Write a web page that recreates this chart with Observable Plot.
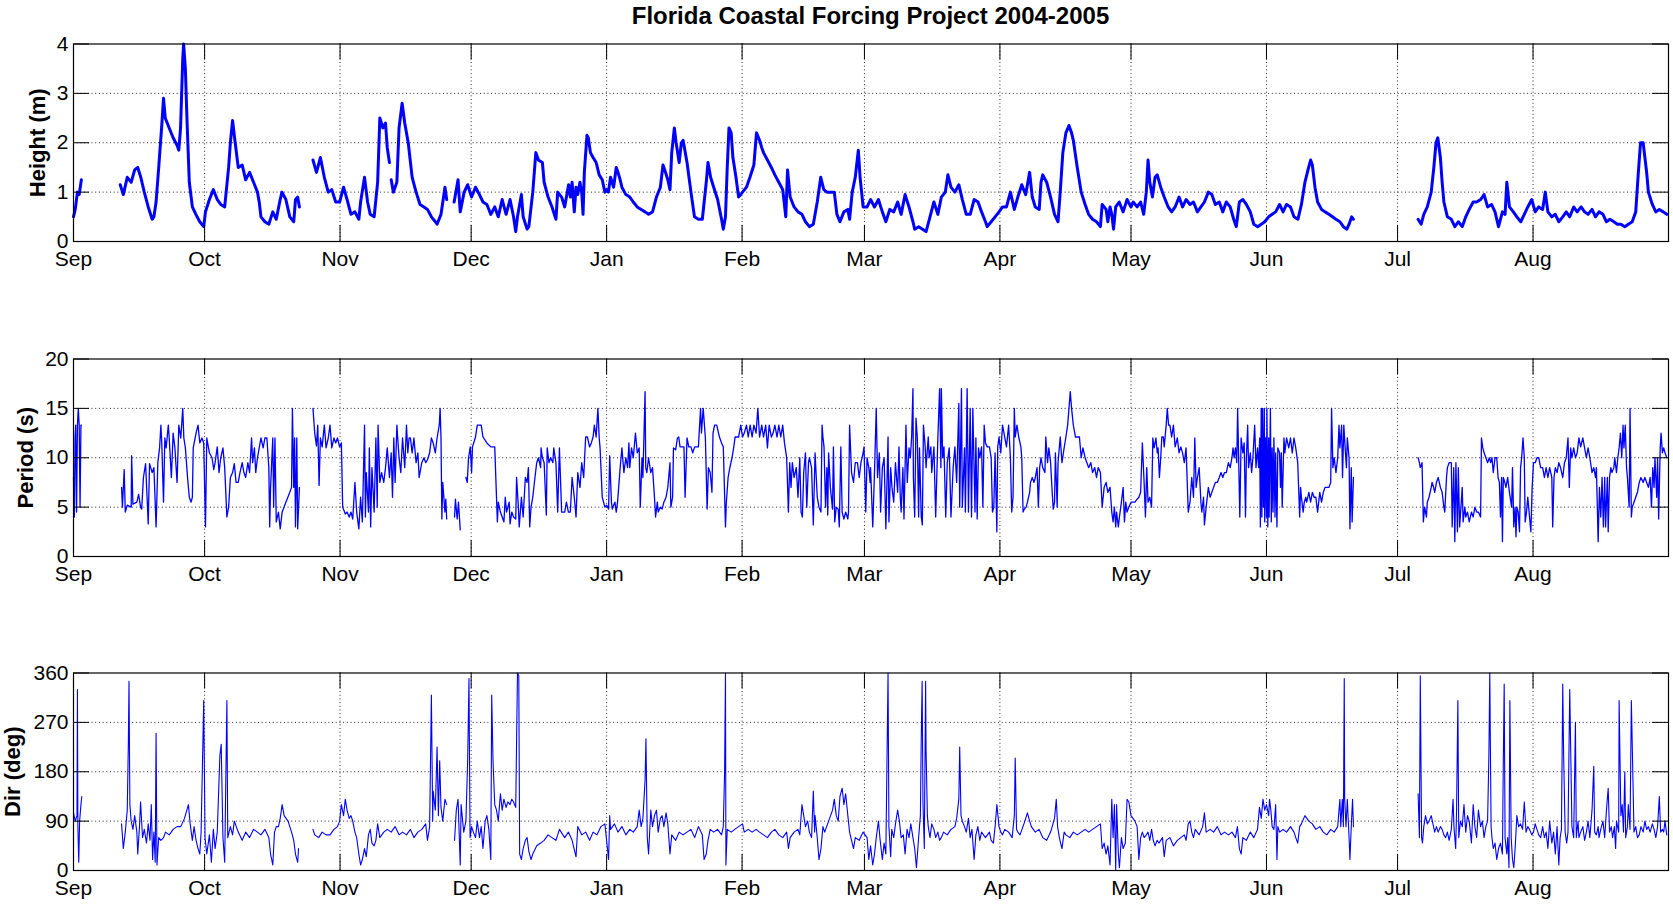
<!DOCTYPE html>
<html>
<head>
<meta charset="utf-8">
<script src="https://cdn.jsdelivr.net/npm/d3@7"></script>
<script src="https://cdn.jsdelivr.net/npm/@observablehq/plot@0.6"></script>
<style>
  html, body { margin: 0; padding: 0; background: white; overflow: hidden; }
  #title { height: 30px; position: relative; }
  #title span { position: absolute; left: 73px; width: 1595px; top: 2px; text-align: center;
    font: bold 24px "Liberation Sans", Arial, sans-serif; color: black; }
  svg { display: block; }
</style>
</head>
<body>
<div id="title"><span>Florida Coastal Forcing Project 2004-2005</span></div>
<div id="charts"></div>
<script>
// ---- axis / tick data ----
const startDate = "2004-09-01";
const endDate = "2005-09-01";
const monthTicks = ["2004-09-01","2004-10-01","2004-11-01","2004-12-01","2005-01-01","2005-02-01",
  "2005-03-01","2005-04-01","2005-05-01","2005-06-01","2005-07-01","2005-08-01"];
const heightTicks = [0, 1, 2, 3, 4];
const periodTicks = [0, 5, 10, 15, 20];
const dirTicks = [0, 90, 180, 270, 360];
const panelLabels = ["Height (m)", "Period (s)", "Dir (deg)"];

// ---- series: [days since 2004-09-01, value]; null marks a data gap ----
const heightData = [
[0,0.5],[0.4,0.65],[0.9,1.0],[1.3,0.95],[1.8,1.25],[2,null],
[10.7,1.15],[11.4,0.95],[12.3,1.3],[13.2,1.2],[14.0,1.45],[14.7,1.5],[15.4,1.3],[16.2,1.0],[17.1,0.7],[18.0,0.45],[18.4,0.5],[18.9,0.8],[19.5,1.5],[20.2,2.35],[20.6,2.9],[21.0,2.5],[21.9,2.3],[22.8,2.1],[23.7,1.95],[24.1,1.85],[24.5,2.3],[25.0,3.7],[25.2,4.0],[25.6,3.5],[26.0,2.4],[26.5,1.2],[27.2,0.7],[28.0,0.55],[28.9,0.4],[29.8,0.3],[30.2,0.6],[31.1,0.85],[32.0,1.05],[32.9,0.85],[33.7,0.75],[34.6,0.7],[35.5,1.5],[35.9,2.0],[36.4,2.45],[37.0,2.0],[37.7,1.5],[38.6,1.55],[39.4,1.25],[40.3,1.4],[41.2,1.2],[42.1,1.0],[42.5,0.8],[42.9,0.5],[43.8,0.4],[44.7,0.35],[45.6,0.6],[46.4,0.45],[47.3,0.85],[47.7,1.0],[48.6,0.85],[49.5,0.5],[50.4,0.4],[50.8,0.85],[51.3,0.9],[51.7,0.7],[52,null],
[54.8,1.65],[55.6,1.4],[56.5,1.7],[57.4,1.3],[58.3,1.0],[59.1,1.05],[60.0,0.8],[60.9,0.8],[61.8,1.1],[62.6,0.85],[63.5,0.55],[64.4,0.6],[65.3,0.45],[65.7,0.8],[66.6,1.3],[67.3,0.8],[67.9,0.55],[68.8,0.5],[69.6,1.2],[70.1,2.5],[70.8,2.3],[71.4,2.4],[71.8,1.9],[72.3,1.6],[72.5,null],
[72.7,1.25],[73.2,1.0],[74.0,1.2],[74.5,2.3],[75.2,2.8],[75.8,2.4],[76.6,2.0],[77.5,1.3],[78.4,1.0],[79.3,0.75],[80.2,0.7],[81.0,0.65],[81.9,0.5],[82.8,0.4],[83.2,0.35],[84.1,0.55],[85.0,1.1],[85.4,0.85],[86,null],
[87.1,0.8],[88.0,1.25],[88.5,0.6],[89.4,1.0],[90.2,1.15],[91.1,0.9],[92.0,1.1],[92.9,0.95],[93.7,0.8],[94.6,0.75],[95.5,0.55],[96.4,0.7],[97.2,0.5],[98.1,0.85],[99.0,0.55],[99.9,0.85],[100.7,0.5],[101.2,0.2],[101.6,0.5],[102.5,0.95],[102.9,0.5],[103.8,0.25],[104.2,0.3],[105.1,1.0],[105.8,1.8],[106.4,1.65],[107.3,1.6],[107.7,1.2],[108.6,0.9],[109.5,0.7],[110.4,0.45],[110.8,1.0],[111.7,0.9],
[112.4,0.7],[113.3,1.15],[113.7,0.9],[114.1,1.2],[114.6,0.6],[115.0,1.1],[115.4,0.95],[115.9,1.2],[116.3,1.0],[116.6,0.55],[116.9,1.4],[117.5,2.15],[117.8,2.1],[118.3,1.8],[118.9,1.7],[119.6,1.6],[120.3,1.35],[121.0,1.25],[121.6,1.0],[122.0,1.05],[122.4,1.0],[122.9,1.3],[123.6,1.1],[124.2,1.5],[124.6,1.4],[125.1,1.25],[125.5,1.1],[126.4,0.95],[127.3,0.9],[128.1,0.8],[129.0,0.7],[129.9,0.65],[130.8,0.6],[131.6,0.55],[132.5,0.6],[133.4,0.9],[134.3,1.1],[134.9,1.55],[135.3,1.45],[136.0,1.25],[136.5,1.05],[136.9,1.8],[137.5,2.3],[137.9,2.0],[138.6,1.6],[139.1,2.0],[139.5,2.05],[140.0,1.8],[140.4,1.6],[141.3,1.0],[142.1,0.5],[143.0,0.45],[143.9,0.45],[144.8,1.2],[145.2,1.6],[145.8,1.3],[146.5,1.1],[147.4,0.85],[148.3,0.45],[148.7,0.25],[149.2,0.5],[149.6,1.5],[150.0,2.3],[150.5,2.2],[150.9,1.7],[151.6,1.3],[152.2,0.9],[153.1,1.0],[154.0,1.1],[154.8,1.3],[155.7,1.55],[156.3,2.2],[157.0,2.05],[157.5,1.9],[157.9,1.8],[158.8,1.65],[159.7,1.5],[160.5,1.35],[161.4,1.2],[162.3,1.05],[163.0,0.5],[163.4,1.45],[164.0,0.9],[164.9,0.7],[165.8,0.6],[166.7,0.55],[167.5,0.4],[168.4,0.3],[169.3,0.35],[170.2,0.8],[171.0,1.3],[171.7,1.05],[172.4,1.0],[173.2,1.0],[174.1,1.0],[174.7,0.55],[175.4,0.4],[176.3,0.6],[177.2,0.65],[177.6,0.45],[178.2,1.0],[178.9,1.3],[179.6,1.85],[180.0,1.3],[180.7,0.7],[181.6,0.7],[182.4,0.85],[183.3,0.7],[184.2,0.85],[185.1,0.6],[185.9,0.4],[186.8,0.65],[187.7,0.6],[188.6,0.8],[189.4,0.55],[190.3,0.95],[191.2,0.7],[192.1,0.4],[192.5,0.25],[193.4,0.3],[194.3,0.25],[195.1,0.2],[196.0,0.5],[196.9,0.8],[197.8,0.55],[198.6,0.9],[199.5,1.0],[200.1,1.35],[200.8,1.1],[201.7,1.0],[202.6,1.15],[203.4,0.85],[204.3,0.55],[205.2,0.55],[206.1,0.85],[207.0,0.8],[207.8,0.6],[208.7,0.4],[209.1,0.3],[210.0,0.4],[210.9,0.5],[211.8,0.6],[212.6,0.7],[213.5,0.7],[214.4,1.0],[215.3,0.65],[216.1,0.9],[217.0,1.15],[217.9,0.95],[218.8,1.4],[219.4,0.9],[220.1,0.7],[221.0,0.65],[221.4,1.2],[221.8,1.35],[222.7,1.2],[223.6,0.9],[224.5,0.55],[225.3,0.4],[225.8,1.0],[226.4,1.8],[227.1,2.2],[227.8,2.35],[228.4,2.2],[228.8,2.05],[229.7,1.5],[230.6,1.0],[231.5,0.75],[232.3,0.55],[233.2,0.45],[234.1,0.4],[235.0,0.3],[235.4,0.75],[236.3,0.65],[236.7,0.4],[237.2,0.7],[237.6,0.55],[238.0,0.25],[238.5,0.7],[239.3,0.8],[240.2,0.6],[241.1,0.85],[242.0,0.7],
[242.5,0.8],[243.4,0.7],[244.2,0.8],[244.9,0.55],[245.5,1.0],[245.9,1.65],[246.3,1.2],[246.9,0.9],[247.5,1.3],[248.0,1.35],[248.8,1.1],[249.6,0.9],[250.5,0.7],[251.3,0.6],[252.1,0.7],[253.0,0.9],[253.8,0.7],[254.6,0.85],[255.5,0.75],[256.3,0.8],[257.2,0.6],[258.0,0.7],[258.8,0.8],[259.7,1.0],[260.5,0.95],[261.3,0.75],[262.2,0.8],[263.0,0.6],[263.8,0.8],[264.7,0.7],[265.5,0.45],[266.1,0.3],[266.8,0.8],[267.6,0.85],[268.4,0.75],[269.3,0.6],[270.1,0.35],[271.0,0.3],[271.8,0.35],[272.6,0.4],[273.5,0.5],[274.3,0.55],[275.1,0.6],[276.0,0.75],[276.8,0.6],[277.6,0.75],[278.5,0.7],[279.3,0.5],[280.2,0.45],[281.0,0.75],[281.8,1.2],[282.5,1.45],[283.1,1.65],[283.5,1.55],[284.1,1.1],[284.7,0.8],[285.6,0.65],[286.4,0.6],[287.3,0.55],[288.1,0.5],[288.9,0.45],[289.8,0.4],[290.6,0.3],[291.4,0.25],[291.9,0.35],[292.5,0.5],[292.9,0.45],[293,null],
[307.7,0.45],[308.4,0.35],[309.0,0.55],[309.8,0.7],[310.7,1.0],[311.3,1.5],[311.8,2.0],[312.2,2.1],[312.8,1.7],[313.2,1.2],[313.6,0.8],[314.4,0.5],[315.3,0.45],[316.1,0.3],[316.9,0.4],[317.8,0.3],[318.6,0.5],[319.4,0.65],[320.3,0.8],[321.1,0.8],[322.0,0.85],[322.8,0.95],[323.6,0.7],[324.5,0.75],[325.3,0.6],[326.1,0.3],[327.0,0.6],[327.6,0.55],[328.0,1.2],[328.6,0.7],[329.5,0.6],[330.3,0.5],[331.2,0.4],[332.0,0.55],[332.8,0.7],[333.7,0.85],[334.5,0.6],[335.3,0.7],[336.2,0.65],[336.8,1.0],[337.4,0.6],[338.3,0.5],[339.1,0.55],[339.9,0.4],[340.8,0.5],[341.6,0.6],[342.4,0.5],[343.3,0.7],[344.1,0.6],[345.0,0.7],[345.8,0.6],[346.6,0.55],[347.5,0.65],[348.3,0.5],[349.1,0.6],[350.0,0.55],[350.8,0.4],[351.6,0.45],[352.5,0.4],[353.3,0.35],[354.1,0.35],[355.0,0.3],[355.8,0.35],[356.7,0.4],[357.5,0.6],[358.1,1.4],[358.6,2.0],[359.2,2.0],[359.6,1.7],[360.0,1.4],[360.4,1.0],[361.3,0.75],[362.1,0.6],[362.9,0.65],[363.8,0.6],[364.6,0.55]
];

const periodData = [
[0,8],[0.2,4],[0.35,12],[0.5,13.3],[0.7,4.5],[0.9,13.3],[1.1,15],[1.3,13.3],[1.5,5],[1.7,13.3],[1.8,13.3],[2,null],
[11.0,7],[11.2,5],[11.6,8.8],[11.85,4.5],[12.3,5.2],[13.2,5.0],[13.3,10.2],[13.6,5.3],[14.5,5.5],[14.9,6.3],[15.35,5.0],[15.6,4.8],[16.0,8],[16.5,9.4],[17.1,3.3],[17.4,9.4],[18.0,8.5],[18.4,9.0],[18.9,3.0],[19.3,9.5],[19.7,11],[20.0,13.3],[20.2,11.5],[20.6,5.5],[20.9,12],[21.2,11],[21.7,13.3],[21.9,12],[22.4,8],[22.8,12.5],[23.2,11],[23.7,7.5],[24.1,13.3],[24.55,12],[25.0,15],[25.25,12],[25.6,11],[26.1,8],[26.5,6],[26.9,5.5],[27.2,6],[27.4,11],[28.05,12.5],[28.5,13.3],[28.9,11.5],[29.4,12],[29.8,11.5],[30.2,3],[30.5,12],[31.1,10.5],[31.7,10],[32.1,8.8],[32.4,9.5],[32.9,11.1],[33.3,8.5],[33.7,10],[34.2,11],[34.6,9],[35.1,4],[35.5,5.0],[35.9,8.0],[36.4,8.5],[36.8,9.4],[37.2,7.5],[37.7,7.5],[38.1,8.5],[38.6,9.5],[39.0,8.5],[39.4,8.0],[39.9,9.5],[40.3,8.5],[40.75,12],[41.0,9.5],[41.4,11],[41.7,8.5],[42.1,10],[42.5,11],[42.9,12],[43.4,11],[43.8,12],[44.25,12],[44.7,9],[44.9,3],[45.1,7],[45.6,12],[45.8,5],[46.1,12],[46.4,3.5],[46.9,4.5],[47.3,2.8],[47.75,4.5],[48.6,5.5],[49.5,6.5],[49.9,7.0],[50.1,15],[50.4,7],[50.6,12],[50.8,3],[51.1,12],[51.3,2.8],[51.7,7],[52,null],
[54.8,15],[55.2,12.5],[55.6,11.2],[55.9,13.3],[56.2,7.2],[56.5,12],[56.9,11.1],[57.4,13.3],[57.8,11],[58.3,12],[58.7,13.3],[59.1,11],[59.6,12],[60.0,11.5],[60.4,12],[60.9,11.1],[61.3,11.5],[61.6,5],[62.2,4.3],[62.6,4.5],[63.1,4.0],[63.5,4.5],[63.9,3.8],[64.4,7.5],[64.8,4.5],[65.3,2.8],[65.7,6],[66.1,3.5],[66.6,13.3],[66.8,4],[67.0,8.5],[67.5,4.5],[67.7,11],[68.0,3],[68.3,9],[68.8,4.5],[69.2,12],[69.5,5],[69.7,13.3],[70.1,7.5],[70.5,8.5],[71.0,7.5],[71.4,9],[71.8,11],[72.3,8],[72.7,10.5],[73.0,6],[73.3,12],[73.6,7.5],[74.0,13.3],[74.5,10],[74.9,8.5],[75.3,12],[75.8,9],[76.2,13.3],[76.5,10.5],[76.8,12],[77.1,12],[77.5,10.5],[77.9,12],[78.4,9.5],[78.8,10.5],[79.1,8],[79.7,9.5],[80.2,10],[80.6,9.5],[81.0,9.8],[81.5,10.5],[81.9,12],[82.3,11.5],[82.8,10.5],[83.2,12],[83.7,13.3],[83.9,15],[84.1,12],[84.3,3.8],[84.5,7.5],[85.0,4.5],[85.2,5.8],[85.4,3.8],[86,null],
[87.2,4.0],[87.4,5.8],[87.8,3.8],[88.1,5.5],[88.5,2.7],[89,null],
[89.8,8],[90.1,7.5],[90.4,10],[90.8,11.1],[91.1,8.5],[91.3,11.1],[92.0,12.1],[92.4,13.3],[93.3,13.3],[93.7,12.1],[94.6,11.5],[95.5,11.1],[96.4,11.1],[96.6,8.5],[97.0,3.5],[97.2,5.5],[97.7,4.5],[98.1,4.0],[98.5,3.5],[98.8,6],[99.1,4.5],[99.7,5.5],[99.9,3.3],[100.3,4.5],[100.7,4.0],[101.2,3.8],[101.4,8],[101.8,5],[102.0,3],[102.5,6],[102.9,4],[103.4,8],[103.8,7.5],[104.1,9],[104.4,3],[104.7,5],[105.1,6],[105.6,8],[106.0,9.5],[106.4,10],[106.9,9],[107.0,11],[107.3,10],[107.7,9.5],[108.2,4.2],[108.4,11],[108.8,9.5],[109.2,10],[109.7,9.5],[109.9,11],[110.4,9.5],[110.8,4.5],[111.2,11],[111.7,4.5],
[112.4,4.5],[112.8,5.5],[113.25,4.5],[113.7,4.5],[114.1,8],[114.6,6],[115.0,4.0],[115.4,8.5],[115.9,7],[116.3,9.5],[116.75,8],[117.2,12.1],[117.6,12.1],[118.1,11.1],[118.5,11.5],[118.9,12.1],[119.2,13.3],[119.6,12.1],[120.0,15],[120.3,12],[120.5,11],[121.0,6],[121.6,5.0],[122.0,5.2],[122.45,4.8],[122.7,10.2],[123.1,5.5],[123.3,4.8],[123.6,5.2],[123.9,5.5],[124.2,4.5],[124.5,5.5],[125.1,9],[125.5,11],[125.95,8.5],[126.4,10],[126.8,9.0],[127.1,11.5],[127.3,9],[127.7,11],[128.1,10],[128.6,12.5],[129.0,10.5],[129.45,11],[129.7,5],[130.1,10],[130.3,8],[130.8,16.7],[130.95,9],[131.2,8.5],[131.6,10],[132.1,8.5],[132.5,9],[132.95,6],[133.2,4.0],[133.6,5.5],[133.8,4.5],[134.3,5.0],[134.7,4.8],[135.1,5.5],[135.6,6],[136.0,7],[136.5,9.5],[136.7,5],[137.1,6],[137.3,11],[137.8,10.8],[138.2,12],[138.5,12.1],[138.8,11.1],[139.3,11.1],[139.7,11.1],[139.96,6],[140.4,12],[140.8,11.1],[141.3,11.1],[141.7,10.5],[142.15,11.1],[142.6,11.1],[143.0,11.1],[143.5,15],[143.7,12.5],[144.1,15],[144.6,12],[145.0,4.8],[145.3,9],[145.7,8.5],[146.1,6.5],[146.35,12.5],[146.7,13.3],[147.2,13.3],[147.6,12.5],[147.9,12],[148.3,11.5],[148.7,11.1],[149.2,3.0],[149.4,5.5],[149.8,8.0],[150.2,9.0],[150.7,10],[151.1,11.1],[151.4,12.1],[151.8,12.1],[152.2,12.1],[152.7,13.3],[153.1,12.1],[153.5,12.5],[154.0,13.3],[154.4,12.1],[154.85,13.3],[155.3,12.1],[155.7,13.3],[156.2,12.5],[156.6,15],[157.0,12.1],[157.5,13.3],[157.9,12.1],[158.4,13.3],[158.8,11],[159.2,13.3],[159.7,12.1],[160.1,12.5],[160.5,13.3],[161.0,12.1],[161.4,13.3],[161.85,12.1],[162.3,13.3],[162.7,11.5],[163.2,10],[163.6,4.5],[163.9,9.5],[164.2,7],[164.5,9.5],[164.9,8],[165.4,9],[165.8,6],[166.2,10],[166.5,4.5],[166.8,4],[167.1,8.5],[167.5,10.5],[167.8,5],[168.2,9.5],[168.4,10],[168.9,9],[169.3,3.2],[169.7,10.5],[170.2,6],[170.6,5],[171.05,4.5],[171.3,13.3],[171.5,12.1],[171.75,11.1],[172.1,5],[172.4,9],[172.6,4.2],[172.8,10.5],[173.2,7],[173.7,4.8],[173.9,11.1],[174.2,3.5],[174.55,5],[175.0,4.8],[175.25,3],[175.6,11.1],[175.9,4.5],[176.3,3.8],[176.7,4.5],[177.2,3.8],[177.35,4.5],[177.6,13.3],[178.05,8.5],[178.5,7.5],[178.9,9.5],[179.4,9.5],[179.8,8.0],[180.2,9.5],[180.7,10.5],[180.9,11.1],[181.3,4.5],[181.6,10],[182.0,9],[182.3,7.5],[182.4,9],[182.9,3.0],[183.3,8.5],[183.7,15],[184.0,8],[184.4,10.5],[184.7,4.5],[185.1,9.0],[185.5,10],[185.9,2.8],[186.4,12.1],[186.6,3.5],[187.0,9],[187.3,7],[187.7,5.5],[188.1,9.5],[188.6,6.5],[188.9,11.1],[189.2,6],[189.4,4.5],[189.8,9],[190.05,3.8],[190.5,13.3],[190.8,7.5],[191.2,11],[191.5,10],[191.8,12.1],[192.1,17],[192.2,8],[192.5,4],[192.8,14],[193.1,12],[193.4,4],[193.6,11],[194.0,4],[194.25,3.2],[194.5,13.3],[194.9,11.1],[195.1,9.0],[195.6,12.1],[195.8,10],[196.2,11.1],[196.4,8.5],[196.9,11.1],[197.3,4.0],[197.8,12],[198.2,17],[198.5,9],[198.6,17],[198.9,10],[199.2,11.1],[199.6,4],[199.95,9.5],[200.4,11],[200.8,4],[201.3,9.0],[201.7,11.1],[202.1,7.5],[202.6,15.5],[202.8,5],[203.2,17],[203.4,5],[203.9,11],[204.1,4.5],[204.5,17],[204.8,4.5],[205.2,15],[205.5,4],[205.8,15],[206.3,4.5],[206.5,12],[206.8,3.8],[207.1,11],[207.4,10],[207.8,11.1],[208.1,5],[208.4,13.3],[208.7,11.5],[209.1,11.1],[209.6,11.1],[210.0,10],[210.3,4.5],[210.6,5.0],[210.9,10.5],[211.3,2.5],[211.5,11.1],[211.8,12.1],[212.2,10.5],[212.6,13.3],[213.1,12.1],[213.5,11.1],[214.0,13.3],[214.4,10],[214.7,4.5],[215.0,6],[215.3,15],[215.5,12.1],[215.9,13.3],[216.3,12.1],[216.8,11.1],[217.0,10],[217.3,4.5],[217.6,4.8],[218.0,5],[218.3,5.5],[218.8,6.5],[219.0,7.5],[219.4,8],[219.8,7.5],[220.1,8],[220.5,9],[220.8,5],[221.1,9],[221.4,10],[221.8,9],[222.3,8.5],[222.5,12.1],[222.9,9.5],[223.2,11],[223.6,9.5],[223.9,7],[224.2,4.8],[224.5,5.5],[224.7,10.5],[225.1,5.0],[225.3,9.5],[225.8,12.1],[226.2,9.5],[226.7,11],[227.1,12.1],[227.5,13.3],[227.8,15],[228.1,16.7],[228.4,15],[228.8,13.3],[229.3,12.1],[229.7,12.1],[230.2,12.1],[230.6,10],[231.0,11],[231.5,10],[231.9,9.5],[232.3,9],[232.8,9.5],[233.2,8.5],[233.7,9],[234.1,8],[234.5,9],[235.0,8.5],[235.4,5],[235.85,7],[236.3,7.5],[236.7,6.5],[237.2,7],[237.6,4.5],[237.9,3.5],[238.2,5],[238.5,3],[238.7,4.5],[239.1,3],[239.35,4],[239.8,5.5],[240.2,7],[240.5,3.5],[240.8,5.5],[241.1,4.5],[241.5,5],[242.0,5.5],
[242.9,5.5],[243.4,5.8],[243.8,6],[244.2,6.5],[244.6,11.5],[245.0,7.5],[245.3,4],[245.6,9],[245.9,5.5],[246.3,6],[246.7,5],[247.0,12],[247.3,11],[247.7,12],[248.0,10.5],[248.2,11],[248.5,8],[248.8,10],[249.05,12.1],[249.4,12.1],[249.6,11.1],[250.05,13.3],[250.3,15],[250.6,13.3],[250.9,13.3],[251.3,12.1],[251.7,13.3],[252.1,11.1],[252.6,12],[253.0,10.5],[253.4,11.1],[253.8,10.5],[254.2,9.5],[254.6,11],[255.1,4.5],[255.5,5.5],[255.9,8],[256.3,6],[256.6,12],[256.9,7],[257.2,8],[257.6,9],[258.0,5.5],[258.2,4.5],[258.6,6],[258.8,3.2],[259.2,5],[259.7,7],[260.1,6],[260.5,6.5],[260.9,7],[261.3,7.5],[261.75,7.5],[262.2,8],[262.6,8.5],[263.0,8],[263.4,8.5],[263.8,8.5],[264.3,9.5],[264.7,9.0],[265.1,10],[265.35,11],[265.6,10],[265.9,11],[266.2,9.5],[266.4,15],[266.7,8.5],[266.9,4],[267.2,12],[267.6,10.5],[267.9,11.5],[268.2,4],[268.4,10],[268.7,13.3],[268.9,9],[269.3,10.5],[269.6,8.5],[269.9,10],[270.3,13.3],[270.6,9],[270.95,11],[271.2,9],[271.45,12],[271.6,3],[271.8,15],[271.95,4],[272.1,15],[272.3,5],[272.5,15],[272.6,3.5],[272.8,12],[273.0,4],[273.1,15],[273.3,3],[273.5,12],[273.6,4],[273.9,15],[274.1,3.5],[274.3,11],[274.5,4.5],[274.7,12],[274.95,4],[275.1,10.5],[275.4,3],[275.6,11],[276.0,10.5],[276.2,7],[276.4,10.5],[276.6,5],[277.0,12],[277.2,10.5],[277.6,12],[278.1,11],[278.5,12],[278.9,10.5],[279.3,12],[279.7,11],[280.15,9.5],[280.6,4],[280.8,7],[281.0,6],[281.4,4.5],[281.65,5.5],[282.0,6],[282.2,5.5],[282.7,6.5],[283.1,5.5],[283.5,6.5],[283.9,6],[284.3,6],[284.7,4.5],[285.2,6.5],[285.6,5.5],[286.0,6.5],[286.4,7],[286.8,7],[287.3,7],[287.7,7.5],[287.9,15],[288.2,9],[288.5,10],[288.9,8.5],[289.3,10],[289.6,13.3],[289.8,11],[290.2,13.3],[290.4,8],[290.7,13.3],[291.0,11],[291.3,9],[291.5,12],[291.9,10],[292.1,2.8],[292.4,9],[292.6,3.5],[292.9,8],[293,null],
[307.7,10],[308.0,9.5],[308.2,9],[308.6,9.5],[308.9,3.5],[309.2,5],[309.6,4],[309.8,5.5],[310.2,6],[310.7,7],[310.9,7.5],[311.25,7],[311.5,6.5],[311.9,7.5],[312.3,8],[312.8,7],[313.2,6.5],[313.6,5],[313.8,4.5],[314.2,8],[314.4,9],[314.8,9.5],[315.3,9.5],[315.5,3],[315.85,9],[316.1,1.5],[316.35,9.5],[316.7,2.5],[316.9,9],[317.2,3],[317.5,5],[317.8,7],[318.0,3.5],[318.4,5],[318.6,4],[319.0,4.5],[319.4,3.5],[319.9,4.5],[320.3,4],[320.7,5],[321.1,4.5],[321.5,4.5],[322.0,4],[322.2,12],[322.5,11],[322.8,10.5],[323.2,10],[323.6,9.5],[324.0,10],[324.3,9.5],[324.6,10],[324.9,8.5],[325.3,10],[325.7,10],[326.0,8],[326.3,7.5],[326.55,4],[326.8,8],[327.0,1.5],[327.2,8],[327.55,7.5],[327.8,7],[328.2,8],[328.6,6.5],[329.1,5],[329.3,9],[329.6,3],[329.9,5],[330.1,2],[330.3,5],[330.6,4.5],[330.9,2.5],[331.15,9],[331.4,10],[331.7,12],[332.0,10],[332.2,3.5],[332.5,4.5],[332.8,6],[333.2,4],[333.5,2.5],[333.8,7],[334.1,9.5],[334.5,9.5],[334.9,10],[335.3,10],[335.75,9],[336.2,9],[336.6,8],[337.0,9],[337.4,8],[337.8,9],[338.3,8],[338.5,3],[338.8,8],[339.1,9],[339.5,8.5],[339.9,9.5],[340.3,9],[340.8,8],[341.2,9.5],[341.6,10],[342.0,12],[342.3,7],[342.6,11],[342.9,10],[343.3,11],[343.7,10],[344.1,10.5],[344.5,12],[344.9,11.1],[345.4,12],[345.8,11],[346.2,10],[346.6,11],[347.0,10],[347.5,8.5],[347.9,9],[348.3,8],[348.5,9],[348.9,1.5],[349.2,7],[349.5,4],[349.8,8],[350.1,3],[350.4,8],[350.6,3],[351.0,8],[351.2,2.5],[351.5,8],[351.8,9],[352.05,8.5],[352.5,9],[352.7,10],[353.1,8.5],[353.4,10],[353.7,11],[354.0,12.5],[354.3,10],[354.6,13.3],[354.8,11],[355.1,13.3],[355.4,9],[355.6,8],[356.0,5],[356.2,15],[356.5,4],[356.7,5],[357.1,5.5],[357.5,6],[357.9,6.5],[358.3,7.5],[358.7,8],[359.2,7.5],[359.6,8],[360.0,7.5],[360.4,7],[360.8,8],[361.1,5],[361.4,9],[361.7,7],[361.9,10],[362.3,6],[362.5,10],[362.75,3.8],[363.1,11],[363.3,12.5],[363.6,10.5],[363.9,11],[364.2,10.5],[364.6,10]
];

const dirData = [
[0,105],[0.4,90],[0.8,100],[0.9,330],[1.0,80],[1.2,15],[1.4,90],[1.7,120],[1.9,135],[2,null],
[11.0,85],[11.4,40],[11.85,70],[12.3,110],[12.55,230],[12.7,345],[12.9,120],[13.2,90],[13.6,75],[14.0,100],[14.5,70],[14.7,30],[15.1,80],[15.35,125],[15.8,60],[16.2,75],[16.7,50],[17.1,85],[17.5,55],[17.8,120],[18.1,20],[18.4,70],[18.7,15],[18.9,250],[19.1,10],[19.5,60],[20.0,55],[20.6,60],[21.05,70],[21.9,65],[22.8,75],[23.7,80],[24.55,80],[25.4,95],[26.3,120],[26.7,85],[27.2,55],[27.6,80],[28.05,55],[28.5,40],[28.9,30],[29.2,70],[29.5,190],[29.8,310],[30.1,60],[30.5,30],[31.1,65],[31.55,15],[32.0,75],[32.4,40],[32.9,70],[33.5,210],[33.8,230],[34.2,60],[34.6,15],[35.1,310],[35.3,60],[35.9,80],[36.4,65],[36.8,90],[37.7,70],[38.6,55],[39.4,70],[40.3,60],[41.2,75],[42.1,70],[42.9,65],[43.8,75],[44.7,60],[45.1,30],[45.6,10],[46.0,70],[46.4,80],[46.9,80],[47.3,95],[47.75,120],[48.2,100],[49.1,90],[49.9,70],[50.4,55],[50.8,30],[51.3,15],[51.5,40],[52,null],
[54.8,75],[55.2,65],[56.1,60],[56.9,70],[57.8,65],[58.7,65],[59.6,75],[60.4,80],[60.9,90],[61.3,120],[61.8,100],[62.2,130],[62.6,110],[63.1,95],[63.5,100],[63.9,90],[64.4,70],[64.8,60],[65.3,30],[65.7,10],[66.1,20],[66.6,40],[67.0,25],[67.5,65],[67.9,75],[68.3,50],[68.8,45],[69.2,55],[69.6,85],[70.1,60],[71.0,70],[71.8,75],[72.7,70],[73.6,80],[74.5,65],[75.3,70],[76.2,65],[77.1,75],[77.9,60],[78.8,70],[79.7,75],[80.6,85],[81.0,55],[81.5,80],[81.9,320],[82.2,90],[82.3,145],[82.8,110],[83.2,225],[83.5,100],[83.8,200],[84.1,115],[84.5,90],[85.0,130],[85.4,120],[86,null],
[87.2,55],[87.6,110],[88.0,130],[88.5,10],[88.7,120],[89.3,70],[89.8,90],[90.2,200],[90.5,350],[90.75,60],[91.1,80],[91.5,70],[92.0,60],[92.4,90],[92.9,60],[93.3,80],[93.7,40],[94.2,90],[94.6,100],[95.05,75],[95.5,20],[95.7,320],[96.0,200],[96.4,120],[96.8,110],[97.2,90],[97.7,140],[98.1,110],[98.5,130],[99.0,115],[99.4,125],[99.9,120],[100.3,130],[100.7,125],[101.2,115],[101.6,360],[101.9,355],[102.1,30],[102.5,20],[102.9,40],[103.4,55],[103.8,60],[104.2,35],[104.7,20],[105.1,30],[106.0,45],[106.9,50],[107.7,55],[108.6,65],[109.5,60],[110.4,55],[111.2,75],
[112.4,60],[113.25,70],[114.1,55],[115.0,25],[115.4,80],[116.3,65],[117.2,70],[118.1,55],[118.9,70],[119.8,65],[120.7,80],[121.6,85],[122.45,20],[122.7,100],[122.9,75],[123.8,85],[124.6,70],[125.5,80],[126.4,65],[127.3,75],[128.1,70],[129.0,80],[129.45,110],[129.9,80],[130.3,95],[130.8,165],[131.0,240],[131.3,60],[131.6,30],[132.1,110],[132.5,80],[132.95,100],[133.4,110],[133.8,70],[134.3,95],[134.7,100],[135.1,80],[135.6,105],[136.0,85],[136.5,30],[136.9,65],[137.8,55],[138.6,70],[139.5,65],[140.4,70],[141.3,75],[142.15,60],[143.0,80],[143.9,65],[144.3,20],[144.8,30],[145.2,55],[145.7,75],[146.5,70],[147.4,75],[148.3,65],[148.7,80],[149.0,180],[149.2,360],[149.3,10],[149.6,75],[150.5,70],[151.3,75],[152.2,80],[153.1,85],[153.5,70],[154.4,75],[155.3,70],[156.2,75],[157.0,70],[157.9,65],[158.8,60],[159.7,70],[160.5,75],[161.4,65],[162.3,60],[163.2,70],[163.6,40],[164.0,60],[164.9,70],[165.8,75],[166.2,65],[166.7,120],[167.1,100],[167.5,80],[168.0,90],[168.4,70],[168.9,60],[169.3,145],[169.6,70],[169.7,100],[170.2,60],[170.6,20],[171.05,40],[171.5,80],[171.9,70],[172.8,90],[173.7,110],[174.1,130],[174.55,100],[175.0,90],[175.4,135],[175.9,150],[176.3,120],[176.7,140],[177.2,100],[177.6,70],[178.05,55],[178.5,40],[178.9,60],[179.8,55],[180.7,70],[181.6,60],[182.0,20],[182.4,45],[182.9,10],[183.3,30],[183.7,60],[184.2,90],[184.6,55],[185.1,20],[185.5,50],[185.9,30],[186.4,360],[186.6,80],[187.0,25],[187.25,75],[187.7,60],[188.1,85],[188.6,110],[189.0,90],[189.4,60],[189.9,65],[190.3,30],[190.75,75],[191.2,60],[191.6,85],[192.1,60],[192.5,40],[192.9,5],[193.4,60],[193.8,100],[194.0,240],[194.2,345],[194.4,120],[194.7,40],[195.0,345],[195.1,220],[195.4,100],[195.6,80],[196.0,60],[196.4,85],[196.9,75],[197.3,60],[197.8,70],[198.2,55],[198.6,60],[199.1,70],[199.95,65],[200.8,75],[201.7,80],[202.1,95],[202.6,130],[202.8,225],[203.1,100],[203.4,90],[203.9,80],[204.3,70],[204.8,95],[205.2,60],[205.6,75],[206.1,20],[206.5,65],[206.95,80],[207.4,55],[207.8,70],[208.7,60],[209.6,70],[210.0,55],[210.5,50],[210.9,80],[211.3,120],[211.8,80],[212.2,70],[212.6,65],[213.1,75],[214.0,70],[214.8,60],[215.3,100],[215.5,205],[215.8,75],[216.1,70],[216.6,65],[217.5,85],[218.3,105],[218.8,90],[219.2,80],[220.1,70],[220.96,75],[221.8,60],[222.7,55],[223.6,70],[224.5,95],[224.9,130],[225.2,80],[225.6,60],[226.2,40],[226.7,70],[227.1,65],[228.0,60],[228.8,70],[229.7,65],[230.6,70],[231.5,75],[232.3,70],[233.2,75],[234.1,80],[235.0,85],[235.4,40],[235.85,50],[236.3,30],[236.7,45],[237.2,10],[237.6,130],[237.9,60],[238.2,120],[238.5,0],[238.7,120],[239.1,30],[239.35,5],[239.8,60],[240.2,40],[240.7,50],[241.1,130],[241.5,125],[242.0,100],
[242.9,90],[243.4,80],[243.8,20],[244.2,60],[244.6,70],[245.0,60],[245.5,65],[245.9,70],[246.3,55],[246.7,75],[247.1,55],[247.5,45],[248.0,55],[248.4,50],[249.2,60],[249.6,25],[250.05,55],[250.9,60],[251.7,45],[252.6,55],[253.4,60],[254.2,65],[254.6,55],[255.1,85],[255.5,90],[255.9,70],[256.3,60],[256.7,75],[257.6,65],[258.4,80],[258.8,105],[259.2,70],[260.1,75],[260.9,70],[261.75,80],[262.6,65],[263.4,70],[264.3,65],[265.1,70],[265.9,60],[266.35,80],[266.8,40],[267.2,30],[267.6,60],[268.4,55],[269.3,70],[270.1,60],[270.95,75],[271.4,115],[271.8,95],[272.2,130],[272.6,110],[273.0,120],[273.5,100],[273.7,130],[274.0,110],[274.3,80],[274.7,75],[275.1,120],[275.4,20],[275.6,80],[276.0,70],[276.8,75],[277.6,70],[278.5,80],[279.3,70],[279.7,60],[280.15,50],[280.6,80],[281.0,85],[281.8,100],[282.7,90],[283.5,85],[284.3,75],[285.2,80],[286.0,70],[286.8,65],[287.7,75],[288.5,70],[289.3,80],[289.8,130],[290.0,80],[290.35,130],[290.6,80],[290.8,350],[290.9,130],[291.2,80],[291.5,130],[291.9,60],[292.1,20],[292.4,80],[292.7,130],[292.9,80],[293,null],
[307.7,140],[308.0,60],[308.2,355],[308.5,60],[308.7,50],[309.0,80],[309.4,100],[309.8,85],[310.2,90],[310.7,100],[311.1,85],[311.5,70],[311.9,80],[312.3,70],[312.8,80],[313.2,75],[313.6,65],[314.0,60],[314.4,70],[314.8,55],[315.3,75],[315.7,130],[315.9,80],[316.3,40],[316.5,110],[316.8,310],[317.0,60],[317.4,90],[317.8,80],[318.2,120],[318.6,70],[319.0,100],[319.4,90],[319.9,50],[320.3,120],[320.7,80],[321.1,60],[321.5,110],[322.0,80],[322.4,90],[322.8,60],[323.2,80],[323.6,90],[323.9,210],[324.1,360],[324.4,80],[324.6,60],[324.9,40],[325.3,50],[325.7,20],[326.1,40],[326.55,50],[327.0,30],[327.2,200],[327.4,340],[327.6,60],[328.0,30],[328.2,60],[328.5,5],[328.7,310],[329.0,60],[329.3,20],[329.6,5],[329.9,40],[330.3,100],[330.7,80],[331.15,85],[331.6,75],[332.0,125],[332.4,70],[332.8,80],[333.2,75],[333.7,65],[334.1,70],[334.5,85],[334.9,75],[335.3,65],[335.75,60],[336.2,80],[336.6,60],[337.0,70],[337.4,40],[337.8,90],[338.3,50],[338.7,70],[339.1,30],[339.5,80],[339.9,10],[340.2,60],[340.5,75],[340.8,340],[341.0,210],[341.35,70],[341.7,50],[342.0,70],[342.4,330],[342.9,80],[343.3,60],[343.7,270],[343.9,60],[344.3,90],[344.5,60],[344.9,70],[345.4,80],[345.8,55],[346.2,70],[346.6,90],[347.0,60],[347.5,110],[347.9,190],[348.1,70],[348.5,65],[348.9,80],[349.1,60],[349.5,75],[350.0,90],[350.4,60],[350.8,110],[351.2,150],[351.5,70],[351.9,80],[352.2,60],[352.6,80],[352.9,40],[353.1,90],[353.6,70],[353.7,310],[354.1,100],[354.4,120],[354.7,70],[355.0,180],[355.2,60],[355.6,80],[355.8,120],[356.2,75],[356.5,310],[356.7,230],[357.1,70],[357.5,80],[357.9,60],[358.3,65],[358.7,80],[359.2,70],[359.6,90],[360.0,75],[360.4,80],[360.8,70],[361.3,85],[361.7,75],[362.1,60],[362.5,80],[362.9,135],[363.2,70],[363.6,75],[363.9,70],[364.2,90],[364.6,65]
];

// ---- drawing ----
const T0 = new Date(startDate).getTime();
const toRows = arr => arr.map(([d, v]) => ({date: new Date(T0 + d * 864e5), value: v}));
const months = monthTicks.map(s => new Date(s));
const innerMonths = months.slice(1);

const W = 1673, ML = 73, MR = 5, TICK = 16;
const FONT = "'Liberation Sans', Arial, Helvetica, sans-serif";

function panel({data, ticks, label, labelDx, height, marginTop, marginBottom, strokeWidth}) {
  const frameH = height - marginTop - marginBottom;
  const frameW = W - ML - MR;
  const gridStyle = {stroke: "#000", strokeOpacity: 0.85, strokeWidth: 1, strokeDasharray: "1,2.7"};
  return Plot.plot({
    width: W, height, marginLeft: ML, marginRight: MR, marginTop, marginBottom,
    style: {fontFamily: FONT, fontSize: "21px", color: "black", background: "white"},
    x: {type: "utc", domain: [new Date(startDate), new Date(endDate)]},
    y: {domain: [ticks[0], ticks[ticks.length - 1]]},
    marks: [
      Plot.gridX(innerMonths, gridStyle),
      Plot.gridY(ticks.slice(1, -1), gridStyle),
      Plot.line(toRows(data), {x: "date", y: "value", stroke: "#0000ff", strokeWidth, strokeLinejoin: "round"}),
      Plot.ruleX(innerMonths, {stroke: "#000", insetTop: frameH - TICK}),
      Plot.ruleX(innerMonths, {stroke: "#000", insetBottom: frameH - TICK}),
      Plot.ruleY(ticks, {stroke: "#000", insetRight: frameW - TICK}),
      Plot.ruleY(ticks, {stroke: "#000", insetLeft: frameW - TICK}),
      Plot.frame({stroke: "#000", strokeWidth: 1.2}),
      Plot.axisX(months, {tickFormat: d3.utcFormat("%b"), tickSize: 0, tickPadding: 10, fontSize: 21, label: null, fill: "black"}),
      Plot.axisY(ticks, {tickSize: 0, tickPadding: 5, fontSize: 21, label: null, fill: "black"}),
      Plot.text([label], {text: d => d, frameAnchor: "left", textAnchor: "middle", lineAnchor: "middle", dx: labelDx, rotate: -90, fontSize: 22, fontWeight: "bold", fill: "black"})
    ]
  });
}

const charts = document.getElementById("charts");
charts.append(panel({data: heightData, ticks: heightTicks, label: panelLabels[0], labelDx: -36, height: 300, marginTop: 13.5, marginBottom: 89, strokeWidth: 3}));
charts.append(panel({data: periodData, ticks: periodTicks, label: panelLabels[1], labelDx: -48, height: 300, marginTop: 28.5, marginBottom: 74, strokeWidth: 1.3}));
charts.append(panel({data: dirData, ticks: dirTicks, label: panelLabels[2], labelDx: -61, height: 276, marginTop: 42.5, marginBottom: 36, strokeWidth: 1.1}));
</script>
</body>
</html>
